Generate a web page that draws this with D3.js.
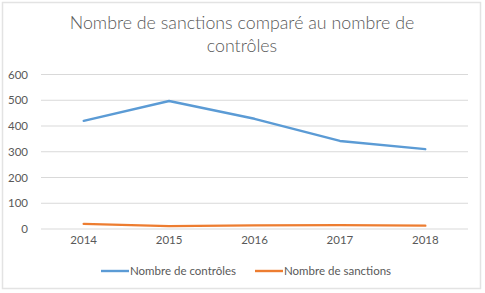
<!DOCTYPE html>
<html><head><meta charset="utf-8">
<script src="https://cdn.jsdelivr.net/npm/d3@7"></script>
<style>body{margin:0;background:#fff;} text{font-family:Lato,"Open Sans",sans-serif;}</style>
</head><body>
<svg id="c" width="485" height="293"></svg>
<script>
const years = ["2014","2015","2016","2017","2018"];
const controles = [420, 497, 428, 342, 310];
const sanctions = [20, 11, 14, 15, 13];
const yTicks = [0,100,200,300,400,500,600];
const seriesNames = ["Nombre de contrôles","Nombre de sanctions"];
const colors = ["#5b9bd5","#ed7d31"];

const svg = d3.select("#c");
svg.append("rect").attr("x",2.5).attr("y",2.5).attr("width",478).attr("height",286)
  .attr("fill","#fff").attr("stroke","#e3e3e3").attr("stroke-width",1.5);

svg.append("text").attr("x",242).attr("y",29).attr("text-anchor","middle")
  .attr("fill","#595959").style("font-size","17.8px").style("font-weight","300")
  .text("Nombre de sanctions comparé au nombre de");
svg.append("text").attr("x",242).attr("y",52).attr("text-anchor","middle")
  .attr("fill","#595959").style("font-size","17.8px").style("font-weight","300")
  .text("contrôles");

const x = d3.scaleBand().domain(years).range([41,468]);
const y = d3.scaleLinear().domain([0,600]).range([229,74.5]);

const grid = svg.append("g");
grid.selectAll("line").data(yTicks).join("line")
  .attr("x1",41).attr("x2",468).attr("y1",d=>y(d)).attr("y2",d=>y(d))
  .attr("stroke","#d9d9d9").attr("stroke-width",1);

const ya = svg.append("g").attr("transform","translate(28,0)")
  .call(d3.axisLeft(y).tickValues(yTicks).tickSize(0).tickPadding(0));
ya.select(".domain").remove();
ya.selectAll("text").attr("fill","#595959").style("font-size","11.5px").style("font-family","Lato,'Open Sans',sans-serif");

const xa = svg.append("g").attr("transform","translate(0,236)")
  .call(d3.axisBottom(x).tickSize(0).tickPadding(0));
xa.select(".domain").remove();
xa.selectAll("text").attr("fill","#595959").style("font-size","11.5px").attr("dy","0.71em").style("font-family","Lato,'Open Sans',sans-serif");

const line = d3.line().x((d,i)=>x(years[i])+x.bandwidth()/2).y(d=>y(d));
[controles, sanctions].forEach((s,k)=>{
  svg.append("path").datum(s).attr("d",line).attr("fill","none")
    .attr("stroke",colors[k]).attr("stroke-width",2.4).attr("stroke-linecap","round").attr("stroke-linejoin","round");
});

const legX = [101, 255];
seriesNames.forEach((n,k)=>{
  svg.append("line").attr("x1",legX[k]).attr("x2",legX[k]+28).attr("y1",271).attr("y2",271)
    .attr("stroke",colors[k]).attr("stroke-width",2.4);
  svg.append("text").attr("x",legX[k]+29).attr("y",275).attr("fill","#595959")
    .style("font-size","11.5px").text(n);
});
</script>
</body></html>
